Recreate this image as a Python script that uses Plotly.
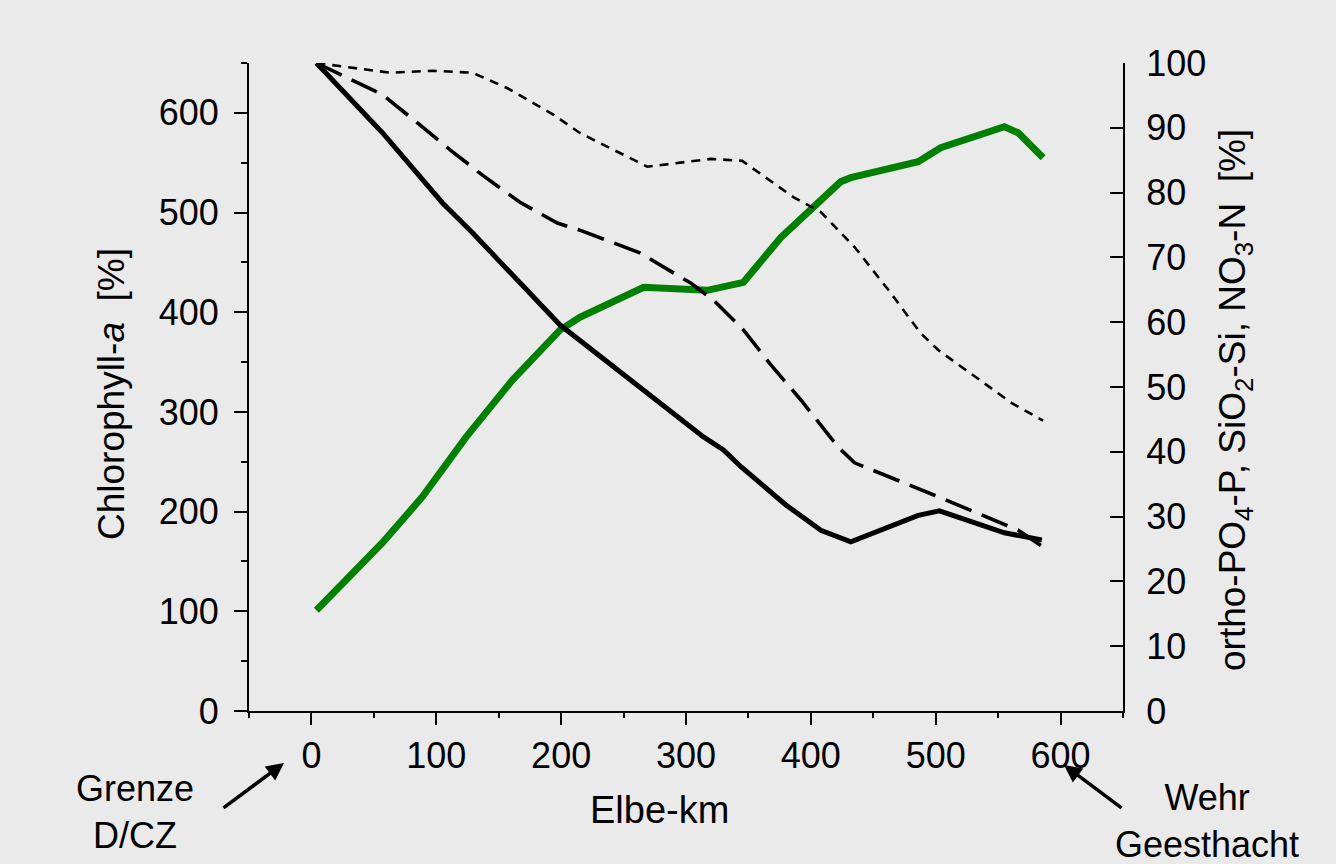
import plotly.graph_objects as go

# ---- data ----
chl_km = [4, 57, 89, 124, 161, 199, 215, 266, 317, 346, 376, 406, 424, 432, 486, 504, 555, 566, 586]
chl_val = [101, 169, 215, 275, 332, 382, 395, 425, 422, 430, 475, 510, 531, 535, 551, 565, 586, 580, 555]

solid_km = [4, 57, 105, 129, 199, 266, 314, 330, 344, 380, 408, 432, 486, 503, 555, 585]
solid_val = [100, 89.2, 78.4, 73.8, 59.6, 49.5, 42.3, 40.3, 37.7, 31.8, 27.9, 26.1, 30.2, 30.9, 27.5, 26.4]

longdash_km = [4, 57, 84, 111, 137, 167, 197, 215, 263, 304, 322, 346, 368, 392, 422, 435, 499, 566, 586]
longdash_val = [100, 95.1, 90.9, 86.6, 82.7, 78.5, 75.3, 74.2, 70.7, 66.0, 63.4, 58.8, 53.4, 48.0, 40.7, 38.3, 33.3, 27.9, 25.3]

shortdash_km = [4, 63, 97, 129, 157, 194, 215, 269, 320, 345, 386, 408, 435, 462, 488, 502, 561, 586]
shortdash_val = [100, 98.5, 98.8, 98.5, 96.1, 92.0, 89.2, 84.0, 85.2, 84.9, 79.3, 77.0, 71.6, 65.0, 58.3, 55.7, 47.5, 44.8]

x_ticks = [0, 100, 200, 300, 400, 500, 600]
y_ticks = [0, 100, 200, 300, 400, 500, 600]
y2_ticks = [0, 10, 20, 30, 40, 50, 60, 70, 80, 90, 100]

FONT = "Liberation Sans, Arial, sans-serif"
BG = "#eaeaea"

fig = go.Figure()
fig.add_trace(go.Scatter(x=shortdash_km, y=shortdash_val, yaxis="y2", mode="lines",
                         line=dict(color="black", width=2.6, dash="9px,7px")))
fig.add_trace(go.Scatter(x=longdash_km, y=longdash_val, yaxis="y2", mode="lines",
                         line=dict(color="black", width=3.6, dash="28px,11px")))
fig.add_trace(go.Scatter(x=solid_km, y=solid_val, yaxis="y2", mode="lines",
                         line=dict(color="black", width=5)))
fig.add_trace(go.Scatter(x=chl_km, y=chl_val, yaxis="y", mode="lines",
                         line=dict(color="#008000", width=7)))

axis_common = dict(showgrid=False, zeroline=False, showline=True, linecolor="black",
                   linewidth=2, tickcolor="black", tickwidth=2,
                   tickfont=dict(family=FONT, size=36, color="black"))

fig.update_layout(
    width=1336, height=864,
    margin=dict(l=249, r=213, t=63, b=153),
    paper_bgcolor=BG, plot_bgcolor=BG,
    showlegend=False,
    font=dict(family=FONT, color="black"),
    xaxis=dict(range=[-50, 650], tickmode="array", tickvals=x_ticks, ticks="outside",
               ticklen=12, ticklabelstandoff=0,
               minor=dict(ticks="outside", ticklen=5, dtick=50, tick0=-50, tickwidth=2, tickcolor="black"),
               **axis_common),
    yaxis=dict(range=[0, 650], tickmode="array", tickvals=y_ticks, ticks="outside",
               ticklen=13, ticklabelstandoff=8,
               minor=dict(ticks="outside", ticklen=6, dtick=50, tick0=0, tickwidth=2, tickcolor="black"),
               **axis_common),
    yaxis2=dict(range=[0, 100], overlaying="y", side="right", tickmode="array",
                tickvals=y2_ticks, ticks="inside", ticklen=13, ticklabelstandoff=14,
                **axis_common),
)

L, W, B, H = 249, 874, 711, 648
def px(xp):
    return (xp - L) / W
def py(yp):
    return (B - yp) / H

def note(text, x, y, size=37, angle=0):
    fig.add_annotation(text=text, textangle=angle, xref="paper", yref="paper",
                       x=px(x), y=py(y), xanchor="center", yanchor="middle",
                       showarrow=False, font=dict(family=FONT, size=size, color="black"))

note("Chlorophyll-<i>a</i> &nbsp;[%]", 112, 394, size=37, angle=-90)
note("ortho-PO<sub>4</sub>-P, SiO<sub>2</sub>-Si, NO<sub>3</sub>-N &nbsp;[%]", 1235, 400, size=37, angle=-90)
note("Elbe-km", 659, 810, size=38)
note("Grenze<br>D/CZ", 135, 812, size=36)
note("Wehr<br>Geesthacht", 1207, 821, size=36)

# arrows
fig.add_annotation(text="", xref="paper", yref="paper", x=px(284), y=py(763),
                   ax=-62, ay=46, showarrow=True, arrowhead=2, arrowsize=1, arrowwidth=3.5,
                   arrowcolor="black")
fig.add_annotation(text="", xref="paper", yref="paper", x=px(1064), y=py(765),
                   ax=59, ay=44, showarrow=True, arrowhead=2, arrowsize=1, arrowwidth=3.5,
                   arrowcolor="black")

fig.write_html("out.html")
